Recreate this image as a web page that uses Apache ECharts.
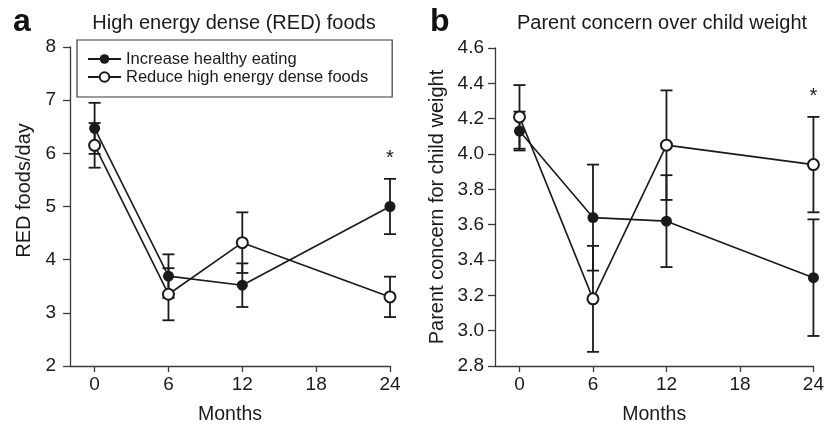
<!DOCTYPE html>
<html>
<head>
<meta charset="utf-8">
<script src="https://cdn.jsdelivr.net/npm/echarts@6/dist/echarts.min.js"></script>
<style>
html,body{margin:0;padding:0;background:#fff;}
#chart{width:827px;height:430px;}
</style>
</head>
<body>
<div id="chart"></div>
<script>
// ---- data ----
const months = [0, 6, 12, 24];
const monthTicks = [0, 6, 12, 18, 24];
const seriesNames = ['Increase healthy eating', 'Reduce high energy dense foods'];

// Panel a: High energy dense (RED) foods
const redHealthyMean = [6.47, 3.69, 3.52, 5.00];
const redHealthyErr  = [0.48, 0.41, 0.41, 0.52];
const redReduceMean  = [6.15, 3.35, 4.32, 3.30];
const redReduceErr   = [0.42, 0.49, 0.57, 0.38];
const redTicks = [2, 3, 4, 5, 6, 7, 8];

// Panel b: Parent concern over child weight
const concernHealthyMean = [4.13, 3.64, 3.62, 3.30];
const concernHealthyErr  = [0.11, 0.30, 0.26, 0.33];
const concernReduceMean  = [4.21, 3.18, 4.05, 3.94];
const concernReduceErr   = [0.18, 0.30, 0.31, 0.27];
const concernTicks = [2.8, 3.0, 3.2, 3.4, 3.6, 3.8, 4.0, 4.2, 4.4, 4.6];

const significant = [false, false, false, true];

// ---- styling ----
const FONT = '"Liberation Sans", Arial, Helvetica, sans-serif';
const INK = '#1a1a1a';
const AX = '#3a3a3a';

function pairs(xs, ys) { return xs.map((x, i) => [x, ys[i]]); }
function errRows(xs, m, e) { return xs.map((x, i) => [x, m[i], e[i]]); }
function starRows(xs, m1, e1, m2, e2, sig) {
  const rows = [];
  xs.forEach((x, i) => { if (sig[i]) rows.push([x, Math.max(m1[i] + e1[i], m2[i] + e2[i])]); });
  return rows;
}

function errRender(params, api) {
  const x = api.value(0), m = api.value(1), e = api.value(2);
  const top = api.coord([x, m + e]);
  const bot = api.coord([x, m - e]);
  const half = 6;
  const st = { stroke: INK, lineWidth: 1.8 };
  return {
    type: 'group',
    children: [
      { type: 'line', shape: { x1: top[0], y1: top[1], x2: bot[0], y2: bot[1] }, style: st },
      { type: 'line', shape: { x1: top[0] - half, y1: top[1], x2: top[0] + half, y2: top[1] }, style: st },
      { type: 'line', shape: { x1: bot[0] - half, y1: bot[1], x2: bot[0] + half, y2: bot[1] }, style: st }
    ]
  };
}
function starRender(params, api) {
  const p = api.coord([api.value(0), api.value(1)]);
  return {
    type: 'text',
    style: { text: '*', x: p[0], y: p[1] - 20, fill: INK, font: '20px ' + FONT, textAlign: 'center', textVerticalAlign: 'middle' }
  };
}

function xAxisCfg(gi) {
  return {
    gridIndex: gi, type: 'value', min: -2, max: 24,
    name: 'Months', nameLocation: 'middle', nameGap: 39, nameMoveOverlap: false,
    nameTextStyle: { fontFamily: FONT, fontSize: 19.5, color: INK },
    axisLine: { onZero: false, lineStyle: { color: AX, width: 1.3 } },
    axisTick: { show: true, length: 6, customValues: monthTicks, lineStyle: { color: AX, width: 1.3 } },
    axisLabel: { customValues: monthTicks, margin: 9, fontFamily: FONT, fontSize: 19, color: INK },
    splitLine: { show: false }
  };
}

const option = {
  animation: false,
  backgroundColor: '#fff',
  title: [
    { text: 'a', left: 8, top: 1, textStyle: { fontFamily: FONT, fontSize: 32, fontWeight: 'bold', color: '#111' } },
    { text: 'High energy dense (RED) foods', left: 229, top: 8, textAlign: 'center', textStyle: { fontFamily: FONT, fontSize: 20, fontWeight: 'normal', color: INK } },
    { text: 'b', left: 425, top: 1, textStyle: { fontFamily: FONT, fontSize: 32, fontWeight: 'bold', color: '#111' } },
    { text: 'Parent concern over child weight', left: 657, top: 8, textAlign: 'center', textStyle: { fontFamily: FONT, fontSize: 20, fontWeight: 'normal', color: INK } }
  ],
  legend: {
    data: seriesNames,
    orient: 'vertical', align: 'left',
    left: 77, top: 40,
    padding: [10, 24, 11, 10],
    itemGap: 0, itemWidth: 33, itemHeight: 12,
    borderColor: AX, borderWidth: 1.2, borderRadius: 0,
    textStyle: { fontFamily: FONT, fontSize: 16.5, color: INK, lineHeight: 18 },
    selectedMode: false
  },
  grid: [
    { left: 70, right: 437, top: 47, bottom: 64, containLabel: false },
    { left: 495, right: 13, top: 48, bottom: 63, containLabel: false }
  ],
  xAxis: [xAxisCfg(0), xAxisCfg(1)],
  yAxis: [
    {
      gridIndex: 0, type: 'value', min: redTicks[0], max: redTicks[redTicks.length - 1], interval: 1,
      name: 'RED foods/day', nameLocation: 'middle', nameGap: 36, nameMoveOverlap: false,
      nameTextStyle: { fontFamily: FONT, fontSize: 20, color: INK, padding: [0, 0, 0, 32] },
      axisLine: { show: true, onZero: false, lineStyle: { color: AX, width: 1.3 } },
      axisTick: { show: true, length: 7, lineStyle: { color: AX, width: 1.3 } },
      axisLabel: { margin: 14, fontFamily: FONT, fontSize: 19, color: INK },
      splitLine: { show: false }
    },
    {
      gridIndex: 1, type: 'value', min: concernTicks[0], max: concernTicks[concernTicks.length - 1], interval: 0.2,
      name: 'Parent concern for child weight', nameLocation: 'middle', nameGap: 48, nameMoveOverlap: false,
      nameTextStyle: { fontFamily: FONT, fontSize: 20, color: INK },
      axisLine: { show: true, onZero: false, lineStyle: { color: AX, width: 1.3 } },
      axisTick: { show: true, length: 7, lineStyle: { color: AX, width: 1.3 } },
      axisLabel: { margin: 11, fontFamily: FONT, fontSize: 19, color: INK, formatter: v => v.toFixed(1) },
      splitLine: { show: false }
    }
  ],
  series: [
    // error bars
    { type: 'custom', name: 'errA1', xAxisIndex: 0, yAxisIndex: 0, renderItem: errRender, data: errRows(months, redHealthyMean, redHealthyErr), clip: false, z: 1 },
    { type: 'custom', name: 'errA2', xAxisIndex: 0, yAxisIndex: 0, renderItem: errRender, data: errRows(months, redReduceMean, redReduceErr), clip: false, z: 1 },
    { type: 'custom', name: 'errB1', xAxisIndex: 1, yAxisIndex: 1, renderItem: errRender, data: errRows(months, concernHealthyMean, concernHealthyErr), clip: false, z: 1 },
    { type: 'custom', name: 'errB2', xAxisIndex: 1, yAxisIndex: 1, renderItem: errRender, data: errRows(months, concernReduceMean, concernReduceErr), clip: false, z: 1 },
    // significance stars
    { type: 'custom', name: 'starA', xAxisIndex: 0, yAxisIndex: 0, renderItem: starRender, data: starRows(months, redHealthyMean, redHealthyErr, redReduceMean, redReduceErr, significant), clip: false, z: 1 },
    { type: 'custom', name: 'starB', xAxisIndex: 1, yAxisIndex: 1, renderItem: starRender, data: starRows(months, concernHealthyMean, concernHealthyErr, concernReduceMean, concernReduceErr, significant), clip: false, z: 1 },
    // lines
    { type: 'line', name: seriesNames[0], xAxisIndex: 0, yAxisIndex: 0, data: pairs(months, redHealthyMean), symbol: 'circle', symbolSize: 11, clip: false, z: 3,
      lineStyle: { color: INK, width: 1.6 }, itemStyle: { color: INK } },
    { type: 'line', name: seriesNames[1], xAxisIndex: 0, yAxisIndex: 0, data: pairs(months, redReduceMean), symbol: 'emptyCircle', symbolSize: 11, clip: false, z: 3,
      lineStyle: { color: INK, width: 1.6 }, itemStyle: { color: INK, borderWidth: 1.3 } },
    { type: 'line', name: seriesNames[0], xAxisIndex: 1, yAxisIndex: 1, data: pairs(months, concernHealthyMean), symbol: 'circle', symbolSize: 11, clip: false, z: 3,
      lineStyle: { color: INK, width: 1.6 }, itemStyle: { color: INK } },
    { type: 'line', name: seriesNames[1], xAxisIndex: 1, yAxisIndex: 1, data: pairs(months, concernReduceMean), symbol: 'emptyCircle', symbolSize: 11, clip: false, z: 3,
      lineStyle: { color: INK, width: 1.6 }, itemStyle: { color: INK, borderWidth: 1.3 } }
  ]
};

const chart = echarts.init(document.getElementById('chart'), null, { renderer: 'canvas' });
chart.setOption(option);
</script>
</body>
</html>
